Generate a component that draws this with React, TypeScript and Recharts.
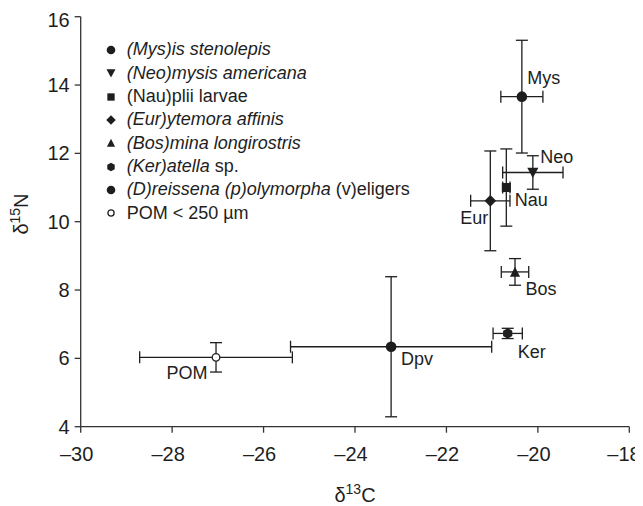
import React from 'react';
import { ScatterChart, Scatter, XAxis, YAxis, ErrorBar, Legend } from 'recharts';

// short codes used as point labels
const codes = ['Mys', 'Neo', 'Nau', 'Eur', 'Bos', 'Ker', 'Dpv', 'POM'];
const d13C = [-20.35, -20.11, -20.69, -21.04, -20.5, -20.66, -23.21, -27.04];
const d15N = [13.66, 11.44, 11.0, 10.61, 8.53, 6.73, 6.34, 6.03];
const d13Csd = [0.46, 0.66, 0.08, 0.43, 0.3, 0.32, 2.2, 1.67];
const d15Nsd = [1.65, 0.49, 1.13, 1.46, 0.39, 0.15, 2.05, 0.43];
const kinds = ['circle', 'triDown', 'square', 'diamond', 'triUp', 'hex', 'circle', 'open'];

// legend text, [text, italic]
const legendLabels: [string, boolean][][] = [
  [['(Mys)is stenolepis', true]],
  [['(Neo)mysis americana', true]],
  [['(Nau)plii larvae', false]],
  [['(Eur)ytemora affinis', true]],
  [['(Bos)mina longirostris', true]],
  [['(Ker)atella', true], [' sp.', false]],
  [['(D)reissena (p)olymorpha', true], [' (v)eligers', false]],
  [['POM < 250 \u00b5m', false]],
];

const xTicks = [-30, -28, -26, -24, -22, -20, -18];
const yTicks = [4, 6, 8, 10, 12, 14, 16];

// label offsets (px) from the point centre
const labelOffset: Record<string, [number, number]> = {
  Mys: [22, -19],
  Neo: [24, -16],
  Nau: [25, 12],
  Eur: [-16, 17],
  Bos: [26, 17],
  Ker: [24, 18],
  Dpv: [26, 12],
  POM: [-29, 15],
};

const INK = '#1e1e1e';
const FONT = '"Liberation Sans", Arial, Helvetica, sans-serif';

const marker = (kind: string, cx: number, cy: number, s: number) => {
  switch (kind) {
    case 'open':
      return <circle cx={cx} cy={cy} r={s * 0.72} fill="#fff" stroke={INK} strokeWidth={1.3} />;
    case 'square':
      return <rect x={cx - s * 0.85} y={cy - s * 0.85} width={s * 1.7} height={s * 1.7} fill={INK} />;
    case 'diamond':
      return (
        <polygon
          points={`${cx},${cy - s * 1.1} ${cx + s * 1.1},${cy} ${cx},${cy + s * 1.1} ${cx - s * 1.1},${cy}`}
          fill={INK}
        />
      );
    case 'triDown':
      return (
        <polygon
          points={`${cx - s * 1.05},${cy - s * 0.9} ${cx + s * 1.05},${cy - s * 0.9} ${cx},${cy + s * 1.05}`}
          fill={INK}
        />
      );
    case 'triUp':
      return (
        <polygon
          points={`${cx - s * 0.95},${cy + s * 0.9} ${cx + s * 0.95},${cy + s * 0.9} ${cx},${cy - s * 1.0}`}
          fill={INK}
        />
      );
    case 'hex': {
      const pts = [0, 1, 2, 3, 4, 5]
        .map((k) => {
          const a = (Math.PI / 3) * k - Math.PI / 2;
          return `${cx + s * Math.cos(a)},${cy + s * Math.sin(a)}`;
        })
        .join(' ');
      return <polygon points={pts} fill={INK} />;
    }
    default:
      return <circle cx={cx} cy={cy} r={s} fill={INK} />;
  }
};

const fmt = (v: number) => String(v).replace('-', '\u2013');

const LegendBox = () => (
  <div style={{ fontSize: 18, color: INK, fontFamily: FONT }}>
    {legendLabels.map((segs, i) => (
      <div key={i} style={{ display: 'flex', alignItems: 'center', height: 23.33, whiteSpace: 'nowrap' }}>
        <svg width={12} height={12} style={{ marginRight: 10, flex: 'none' }}>
          {marker(kinds[i], 6, 6, 4.3)}
        </svg>
        <span>
          {segs.map(([t, it], j) => (
            <span key={j} style={{ fontStyle: it ? 'italic' : 'normal' }}>
              {t}
            </span>
          ))}
        </span>
      </div>
    ))}
  </div>
);

export default function App() {
  const axisStyle = { stroke: '#333', strokeWidth: 1.3 };
  return (
    <div style={{ width: 635, height: 498, fontFamily: FONT }}>
      <ScatterChart width={635} height={498} margin={{ top: 8.7, right: 13.7, bottom: 19.3, left: 12.7 }}>
        <XAxis
          type="number"
          dataKey="x"
          domain={[-30, -18]}
          ticks={xTicks}
          tickFormatter={fmt}
          tickSize={6}
          tickMargin={14}
          height={60}
          axisLine={axisStyle}
          tickLine={axisStyle}
          tick={{ fill: INK, fontSize: 20, dx: -4 }}
          label={(p: any) => {
            const vb = p.viewBox;
            return (
              <text x={vb.x + vb.width / 2} y={vb.y + 75.3} textAnchor="middle" fill={INK} fontSize={20}>
                {'\u03b4'}
                <tspan fontSize={14} dy={-8}>
                  13
                </tspan>
                <tspan dy={8}>C</tspan>
              </text>
            );
          }}
        />
        <YAxis
          type="number"
          dataKey="y"
          domain={[4, 16]}
          ticks={yTicks}
          tickFormatter={fmt}
          tickSize={6}
          tickMargin={5}
          width={60}
          axisLine={axisStyle}
          tickLine={axisStyle}
          tick={{ fill: INK, fontSize: 20 }}
          label={() => (
            <text x={20} y={206} transform="rotate(-90, 20, 206)" textAnchor="middle" fill={INK} fontSize={20}>
              {'\u03b4'}
              <tspan fontSize={14} dy={-8}>
                15
              </tspan>
              <tspan dy={8}>N</tspan>
            </text>
          )}
        />
        <Legend
          layout="horizontal"
          align="center"
          verticalAlign="middle"
          content={() => <LegendBox />}
          wrapperStyle={{ left: 96.7, top: 30.3, width: 340 }}
        />
        {codes.map((code, i) => (
          <Scatter
            key={code}
            name={code}
            data={[{ x: d13C[i], y: d15N[i], ex: d13Csd[i], ey: d15Nsd[i] }]}
            isAnimationActive={false}
            shape={(p: any) => {
              const [dx, dy] = labelOffset[code];
              return (
                <g>
                  {marker(kinds[i], p.cx, p.cy, 5.3)}
                  <text x={p.cx + dx} y={p.cy + dy + 6.4} textAnchor="middle" fill={INK} fontSize={18}>
                    {code}
                  </text>
                </g>
              );
            }}
          >
            <ErrorBar dataKey="ex" direction="x" width={6} stroke={INK} strokeWidth={1.3} isAnimationActive={false} />
            <ErrorBar dataKey="ey" direction="y" width={6} stroke={INK} strokeWidth={1.3} isAnimationActive={false} />
          </Scatter>
        ))}
      </ScatterChart>
    </div>
  );
}
